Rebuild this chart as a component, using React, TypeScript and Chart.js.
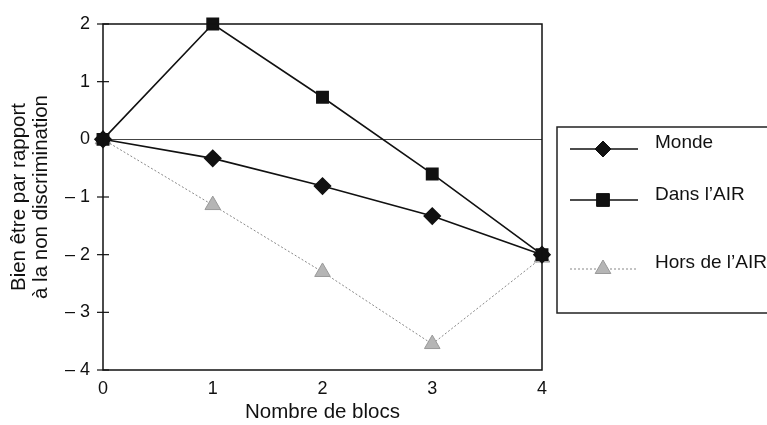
import React, { useEffect, useRef } from "react";
import { Chart, registerables } from "chart.js";

Chart.register(...registerables);

const xValues = [0, 1, 2, 3, 4];
const monde = [0, -0.33, -0.81, -1.33, -2.0];
const dansAIR = [0, 2.0, 0.73, -0.6, -2.0];
const horsAIR = [0, -1.14, -2.3, -3.55, -2.05];
const yTickLabels: Record<string, string> = { "2": "2", "1": "1", "0": "0", "-1": "\u2013 1", "-2": "\u2013 2", "-3": "\u2013 3", "-4": "\u2013 4" };
const legendLabels = ["Monde", "Dans l\u2019AIR", "Hors de l\u2019AIR"];

const FONT = "'Liberation Sans', Arial, sans-serif";

const framePlugin = {
  id: "framePlugin",
  afterDraw(chart: any) {
    const { ctx, chartArea: a, scales } = chart;
    ctx.save();
    ctx.strokeStyle = "#111";
    ctx.lineWidth = 1.5;
    ctx.strokeRect(a.left, a.top, a.right - a.left, a.bottom - a.top);
    // crossing ticks on y axis
    ctx.lineWidth = 1.2;
    for (let v = -4; v <= 2; v++) {
      const y = scales.y.getPixelForValue(v);
      ctx.beginPath();
      ctx.moveTo(a.left - 6, y);
      ctx.lineTo(a.left + 6, y);
      ctx.stroke();
    }
    // legend
    const bx = 557, by = 127, bw = 767 - 557 + 5, bh = 313 - 127;
    ctx.lineWidth = 1.5;
    ctx.strokeStyle = "#222";
    ctx.strokeRect(bx, by, bw, bh);
    const rows = [
      { y: 149, ty: 143, ds: 0 },
      { y: 200, ty: 195, ds: 1 },
      { y: 269, ty: 263, ds: 2 },
    ];
    rows.forEach((r, i) => {
      const ds = chart.data.datasets[r.ds];
      ctx.save();
      ctx.strokeStyle = ds.borderColor;
      ctx.lineWidth = ds.borderWidth;
      ctx.setLineDash(ds.borderDash || []);
      ctx.beginPath();
      ctx.moveTo(570, r.y);
      ctx.lineTo(638, r.y);
      ctx.stroke();
      ctx.restore();
      ctx.save();
      ctx.fillStyle = ds.pointBackgroundColor;
      ctx.strokeStyle = ds.pointBorderColor;
      ctx.lineWidth = 1;
      const cx = 603, cy = r.y, s = ds.pointRadius;
      ctx.beginPath();
      if (ds.pointStyle === "rectRot") {
        ctx.moveTo(cx, cy - s); ctx.lineTo(cx + s, cy); ctx.lineTo(cx, cy + s); ctx.lineTo(cx - s, cy); ctx.closePath();
      } else if (ds.pointStyle === "rect") {
        const h = s * 0.8;
        ctx.rect(cx - h, cy - h, 2 * h, 2 * h);
      } else {
        ctx.moveTo(cx, cy - s); ctx.lineTo(cx + s * 0.87, cy + s * 0.5); ctx.lineTo(cx - s * 0.87, cy + s * 0.5); ctx.closePath();
      }
      ctx.fill();
      ctx.stroke();
      ctx.restore();
      ctx.fillStyle = "#111";
      ctx.font = `19px ${FONT}`;
      ctx.textBaseline = "middle";
      ctx.textAlign = "left";
      ctx.fillText(legendLabels[i], 655, r.ty);
    });
    ctx.restore();
  },
};

export default function App() {
  const ref = useRef<HTMLCanvasElement>(null);
  useEffect(() => {
    if (!ref.current) return;
    const chart = new Chart(ref.current, {
      type: "line",
      data: {
        datasets: [
          {
            label: legendLabels[0],
            data: xValues.map((x, i) => ({ x, y: monde[i] })),
            borderColor: "#111",
            borderWidth: 1.6,
            pointStyle: "rectRot",
            pointRadius: 8,
            pointBackgroundColor: "#111",
            pointBorderColor: "#111",
            clip: false,
          } as any,
          {
            label: legendLabels[1],
            data: xValues.map((x, i) => ({ x, y: dansAIR[i] })),
            borderColor: "#111",
            borderWidth: 1.6,
            pointStyle: "rect",
            pointRadius: 8,
            pointBackgroundColor: "#111",
            pointBorderColor: "#111",
            clip: false,
          } as any,
          {
            label: legendLabels[2],
            data: xValues.map((x, i) => ({ x, y: horsAIR[i] })),
            borderColor: "#888",
            borderWidth: 1,
            borderDash: [2, 2],
            pointStyle: "triangle",
            pointRadius: 9,
            pointBackgroundColor: "#b5b5b5",
            pointBorderColor: "#999",
            clip: false,
          } as any,
        ],
      },
      options: {
        animation: false,
        responsive: false,
        layout: { padding: { top: 24, right: 225, left: 0, bottom: 0 } },
        plugins: { legend: { display: false }, tooltip: { enabled: false } },
        scales: {
          x: {
            type: "linear",
            min: 0,
            max: 4,
            afterFit: (s: any) => { s.height = 55; },
            grid: { display: false, drawTicks: false },
            border: { display: false },
            ticks: { stepSize: 1, color: "#111", padding: 8, font: { family: FONT, size: 18 } },
            title: { display: true, text: "Nombre de blocs", color: "#111", font: { family: FONT, size: 20.5 }, padding: { top: 0, bottom: 0 } },
          },
          y: {
            min: -4,
            max: 2,
            afterFit: (s: any) => { s.width = 103; },
            grid: {
              drawTicks: false,
              color: (c: any) => (c.tick && c.tick.value === 0 ? "#444" : "transparent"),
              lineWidth: 1,
            },
            border: { display: false },
            ticks: {
              stepSize: 1,
              color: "#111",
              padding: 13,
              font: { family: FONT, size: 18 },
              callback: (v: any) => yTickLabels[String(v)] ?? String(v),
            },
            title: {
              display: true,
              text: ["Bien être par rapport", "à la non discrimination"],
              color: "#111",
              font: { family: FONT, size: 20.5, lineHeight: 1.1 },
              padding: { top: 8, bottom: 6 },
            },
          },
        },
      },
      plugins: [framePlugin],
    });
    return () => chart.destroy();
  }, []);
  return (
    <div style={{ position: "fixed", left: 0, top: 0, width: 767, height: 425, background: "#fff" }}>
      <canvas ref={ref} width={767} height={425} style={{ width: 767, height: 425 }} />
    </div>
  );
}
